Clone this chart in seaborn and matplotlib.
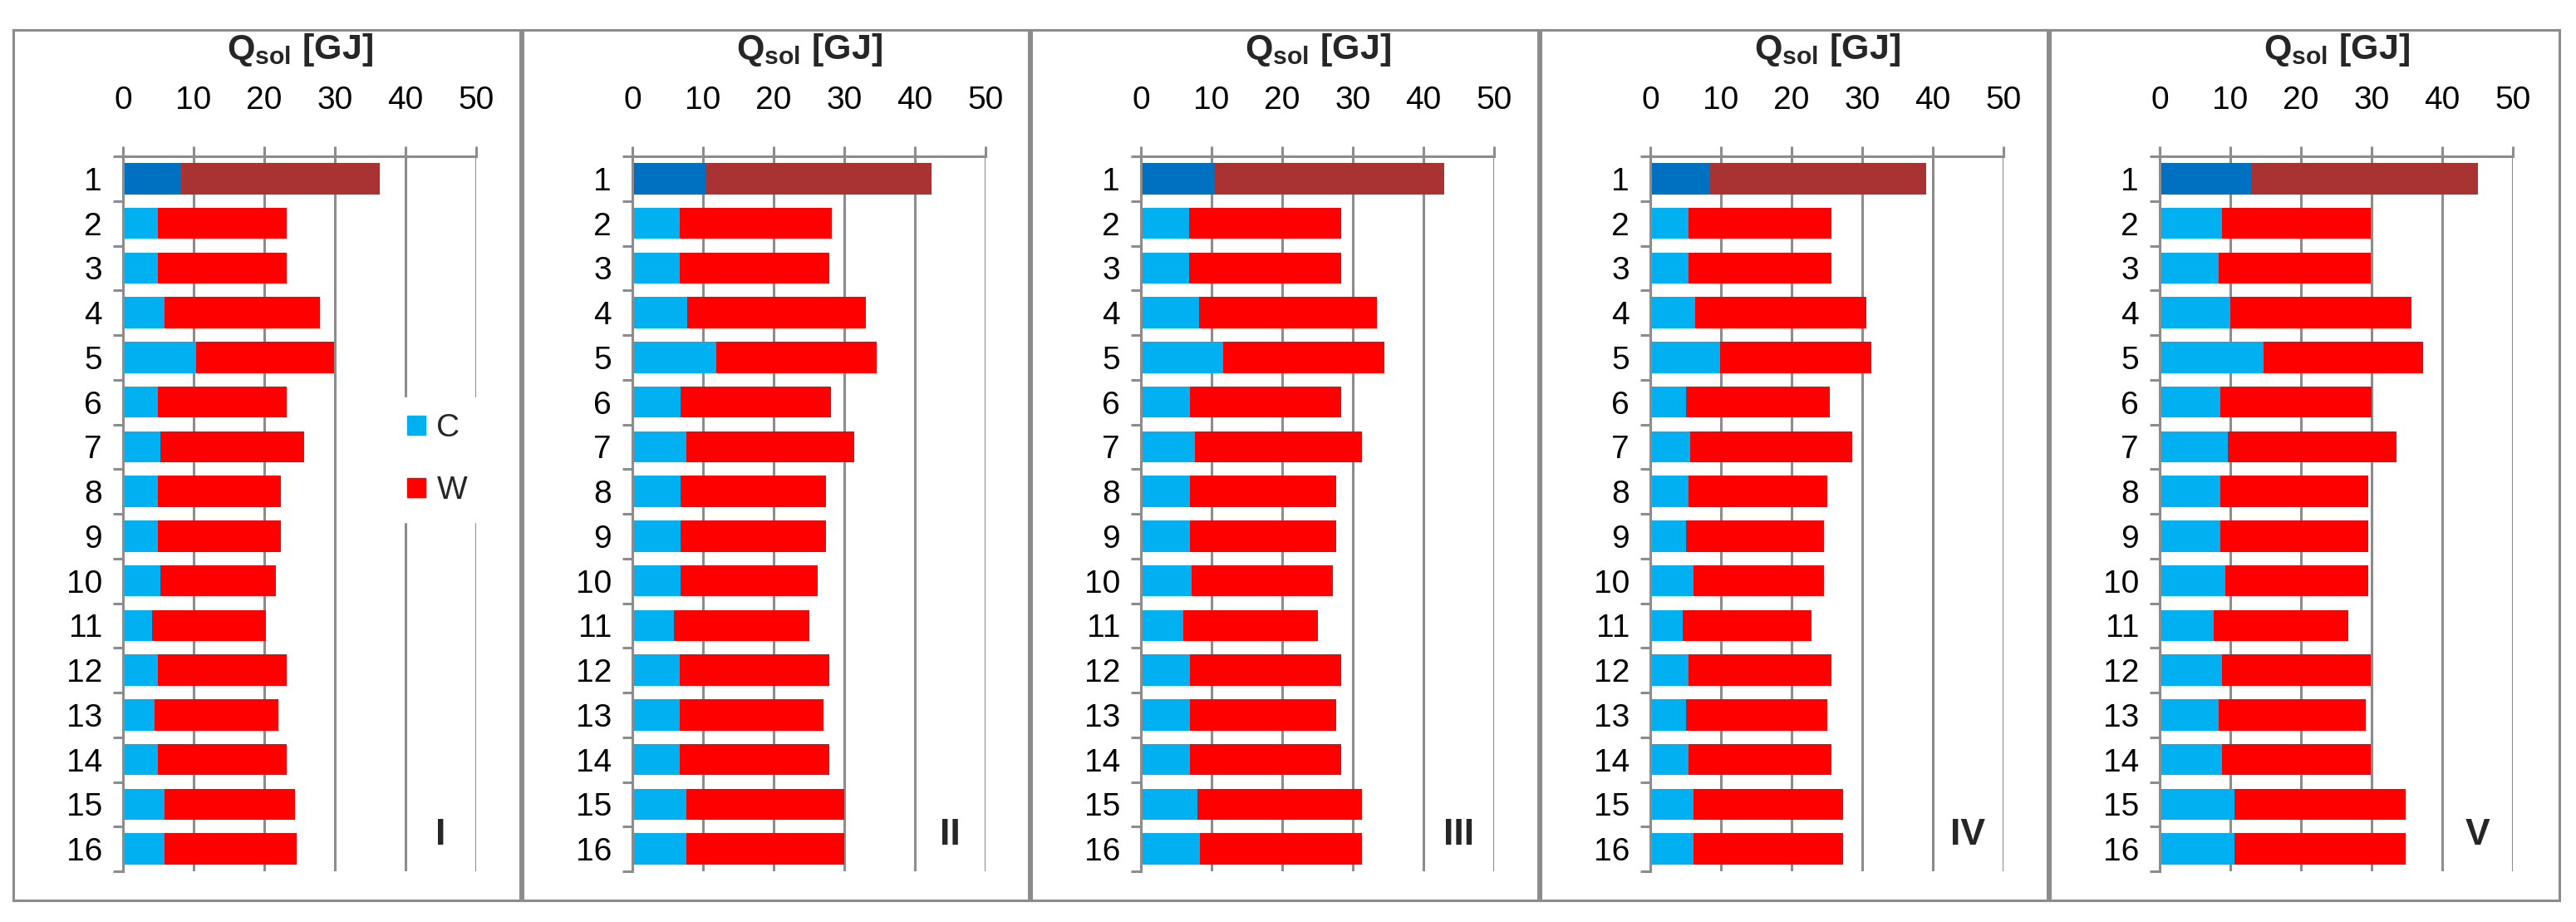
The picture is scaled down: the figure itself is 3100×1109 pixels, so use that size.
"""Solar heat gain Q_sol split into C and W parts, five variants side by side."""

import numpy as np
import pandas as pd
import matplotlib
matplotlib.use("Agg")
import matplotlib.pyplot as plt
from matplotlib.patches import Patch, Rectangle
import seaborn as sns

sns.set_theme(style="white")
plt.rcParams["font.family"] = ["Liberation Sans", "DejaVu Sans"]
plt.rcParams["mathtext.fontset"] = "custom"
plt.rcParams["mathtext.rm"] = "Liberation Sans"
plt.rcParams["mathtext.bf"] = "Liberation Sans:bold"

# data [GJ], cases 1..16 top to bottom
cases = [str(i) for i in range(1, 17)]
panels = ["I", "II", "III", "IV", "V"]

c_I = [8.2, 4.9, 4.9, 5.9, 10.4, 4.9, 5.3, 4.9, 4.9, 5.3, 4.1, 4.9, 4.5, 4.9, 5.9, 5.9]
w_I = [28.1, 18.3, 18.3, 22.0, 19.5, 18.3, 20.4, 17.5, 17.5, 16.4, 16.1, 18.3, 17.5, 18.3, 18.4, 18.7]

c_II = [10.3, 6.7, 6.7, 7.8, 11.9, 6.8, 7.6, 6.8, 6.8, 6.8, 5.9, 6.7, 6.7, 6.7, 7.7, 7.7]
w_II = [32.1, 21.5, 21.2, 25.3, 22.7, 21.3, 23.8, 20.6, 20.6, 19.4, 19.1, 21.2, 20.4, 21.2, 22.3, 22.3]

c_III = [10.5, 6.8, 6.8, 8.2, 11.6, 6.9, 7.7, 6.9, 6.9, 7.2, 6.0, 6.9, 6.9, 6.9, 8.0, 8.3]
w_III = [32.4, 21.5, 21.5, 25.2, 22.9, 21.5, 23.6, 20.7, 20.7, 20.0, 19.0, 21.5, 20.7, 21.5, 23.3, 23.0]

c_IV = [8.5, 5.4, 5.4, 6.4, 9.9, 5.0, 5.7, 5.4, 5.0, 6.1, 4.6, 5.4, 5.0, 5.4, 6.1, 6.1]
w_IV = [30.5, 20.3, 20.3, 24.2, 21.4, 20.4, 22.9, 19.6, 19.6, 18.5, 18.2, 20.3, 20.0, 20.3, 21.2, 21.2]

c_V = [12.9, 8.8, 8.4, 10.0, 14.7, 8.6, 9.7, 8.6, 8.6, 9.3, 7.7, 8.8, 8.4, 8.8, 10.6, 10.6]
w_V = [32.1, 21.1, 21.5, 25.6, 22.6, 21.4, 23.8, 20.9, 20.9, 20.2, 19.0, 21.1, 20.8, 21.1, 24.2, 24.2]

c_values = [c_I, c_II, c_III, c_IV, c_V]
w_values = [w_I, w_II, w_III, w_IV, w_V]

C_COL, C_COL1 = "#00B0F0", "#0070C0"
W_COL, W_COL1 = "#FF0000", "#A93232"
GRAY = "#8c8c8c"

c_pal = {k: (C_COL1 if k == "1" else C_COL) for k in cases}
w_pal = {k: (W_COL1 if k == "1" else W_COL) for k in cases}

W_PX, H_PX = 3100, 1109
panel_left = [16, 629, 1241, 1854, 2467]
panel_right = [626, 1238, 1851, 2464, 3080]
box_top, box_bottom = 36, 1083
ax_top, ax_bottom = 188, 1048

fig = plt.figure(figsize=(W_PX / 100, H_PX / 100), dpi=100)

for i, name in enumerate(panels):
    L, R = panel_left[i], panel_right[i]
    fig.patches.append(Rectangle((L / W_PX, (H_PX - box_bottom) / H_PX),
                                 (R - L) / W_PX, (box_bottom - box_top) / H_PX,
                                 transform=fig.transFigure, fill=False,
                                 edgecolor=GRAY, linewidth=2.2))

    ax = fig.add_axes([(L + 132) / W_PX, (H_PX - ax_bottom) / H_PX,
                       425 / W_PX, (ax_bottom - ax_top) / H_PX])

    df = pd.DataFrame({"case": cases, "C": c_values[i], "W": w_values[i]})
    df["total"] = df["C"] + df["W"]

    sns.barplot(data=df, x="total", y="case", hue="case", palette=w_pal,
                order=cases, orient="h", width=0.7, saturation=1,
                linewidth=0, legend=False, ax=ax)
    sns.barplot(data=df, x="C", y="case", hue="case", palette=c_pal,
                order=cases, orient="h", width=0.7, saturation=1,
                linewidth=0, legend=False, ax=ax)

    ax.set_xlim(0, 50)
    ax.set_ylim(15.5, -0.5)
    ax.set_xticks(range(0, 51, 10))
    ax.set_xlabel("")
    ax.set_ylabel("")
    ax.xaxis.tick_top()
    ax.grid(axis="x", color=GRAY, linewidth=2.2)
    ax.grid(axis="y", visible=False)
    ax.set_axisbelow(True)
    for side in ["right", "bottom"]:
        ax.spines[side].set_visible(False)
    for side in ["top", "left"]:
        ax.spines[side].set_color(GRAY)
        ax.spines[side].set_linewidth(2.2)

    ax.tick_params(axis="x", which="major", direction="out", length=9,
                   width=2.2, color=GRAY, pad=26, labelsize=28,
                   labelcolor="black", top=True, bottom=False,
                   labeltop=True, labelbottom=False)
    ax.set_yticks(np.arange(-0.5, 16, 1), minor=True)
    ax.tick_params(axis="y", which="major", length=0, pad=18,
                   labelsize=28, labelcolor="black")
    ax.tick_params(axis="y", which="minor", length=9, width=2.2,
                   color=GRAY, direction="out", left=True)

    cx = (L + 132 + 212.5) / W_PX
    fig.text(cx, 1 - 60 / H_PX, r"$\mathbf{Q_{sol}}$ [GJ]", ha="center",
             va="center", fontsize=31, fontweight="bold")

    ax.text(45, 14.7, name, ha="center", va="center", fontsize=32,
            fontweight="bold")

    if i == 0:
        handles = [Patch(color=C_COL, label="C"), Patch(color=W_COL, label="W")]
        ax.legend(handles=handles, loc="upper left",
                  bbox_to_anchor=(0.76, 0.663), frameon=True,
                  facecolor="white", edgecolor="white", framealpha=1,
                  fontsize=28, handlelength=0.55, handleheight=0.55,
                  handletextpad=0.35, labelspacing=1.0, borderpad=0.5,
                  borderaxespad=0, fancybox=False)

fig.savefig("out.png", dpi=100)
plt.close(fig)
